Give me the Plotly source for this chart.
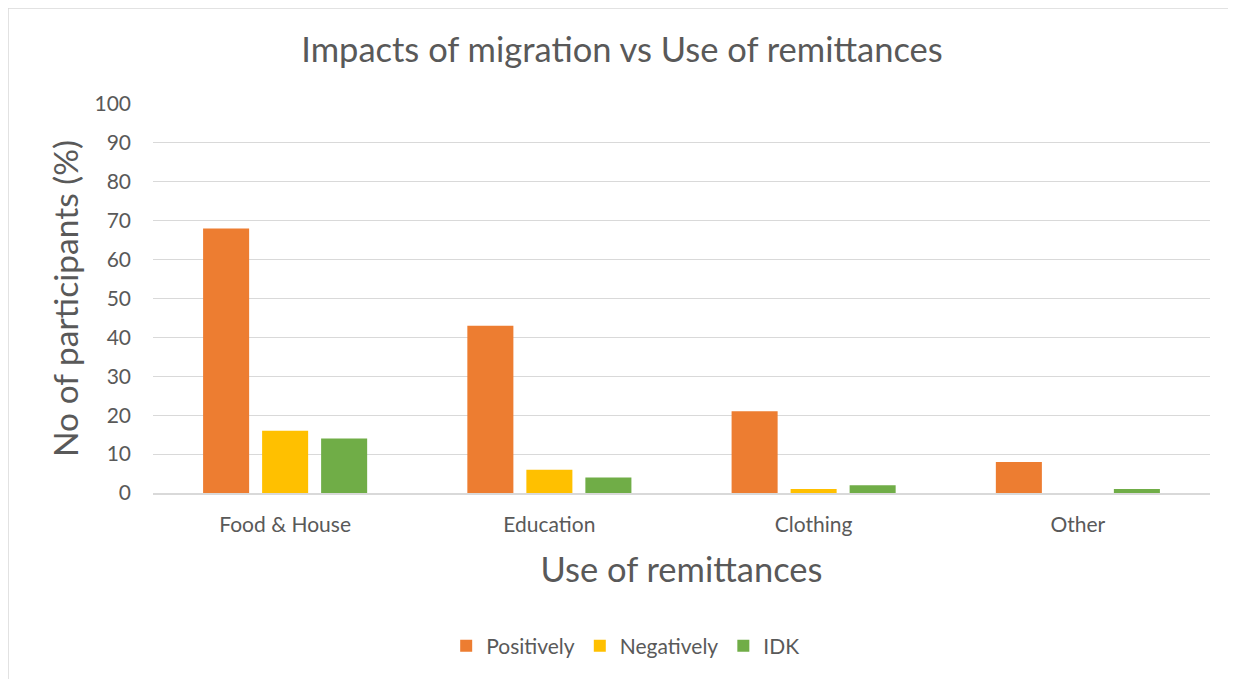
import plotly.graph_objects as go

categories = ["Food & House", "Education", "Clothing", "Other"]
positively = [68, 43, 21, 8]
negatively = [16, 6, 1, 0]
idk = [14, 4, 2, 1]
series_names = ["Positively", "Negatively", "IDK"]
colors = ["#ED7D31", "#FFC000", "#70AD47"]

# page body has an 8px margin, so figure coords = page coords - 8
W, H = 1228, 671
L, R, T, B = 145, 26, 96, 186
FONT = "Lato"
GRAY = "#595959"

fig = go.Figure()
for name, vals, c in zip(series_names, [positively, negatively, idk], colors):
    fig.add_trace(go.Bar(x=categories, y=vals, name=name, marker=dict(color=c, line=dict(width=0))))

pw = W - L - R
ph = H - T - B
def px2x(px):
    return (px - L) / pw
def py2y(py):
    return (H - B - py) / ph

fig.update_layout(
    width=W, height=H,
    margin=dict(l=L, r=R, t=T, b=B),
    paper_bgcolor="white", plot_bgcolor="white",
    font=dict(family=FONT, color=GRAY, size=21),
    barmode="group", bargap=0.33, bargroupgap=0.22,
    title=dict(text="Impacts of migration vs Use of remittances", x=0.5, xanchor="center",
               y=1 - 42 / H, yanchor="middle", font=dict(size=34.5, color=GRAY, family=FONT)),
    xaxis=dict(title=dict(text="Use of remittances", font=dict(size=34.5, color=GRAY), standoff=23),
               showgrid=False, showline=True, linecolor="#D9D9D9", linewidth=1.5,
               ticks="", tickfont=dict(size=21, color=GRAY), ticklabelstandoff=12),
    yaxis=dict(title=dict(text="No of participants (%)", font=dict(size=33.5, color=GRAY), standoff=5),
               range=[0, 100], dtick=10, showgrid=True, gridcolor="#D9D9D9", gridwidth=1.3,
               zeroline=False, ticks="", tickfont=dict(size=21, color=GRAY), ticklabelstandoff=21),
    legend=dict(orientation="h", x=0.503, xanchor="center", xref="container",
                y=1 - 638 / H, yanchor="middle", yref="container",
                font=dict(size=21, color=GRAY), itemwidth=30, tracegroupgap=0),
    shapes=[dict(type="rect", xref="paper", yref="paper",
                 x0=px2x(0), x1=px2x(W + 20), y0=py2y(H + 20), y1=py2y(0),
                 line=dict(color="#D9D9D9", width=1.5), fillcolor="rgba(0,0,0,0)", layer="below")],
)

fig.write_html("out.html")
